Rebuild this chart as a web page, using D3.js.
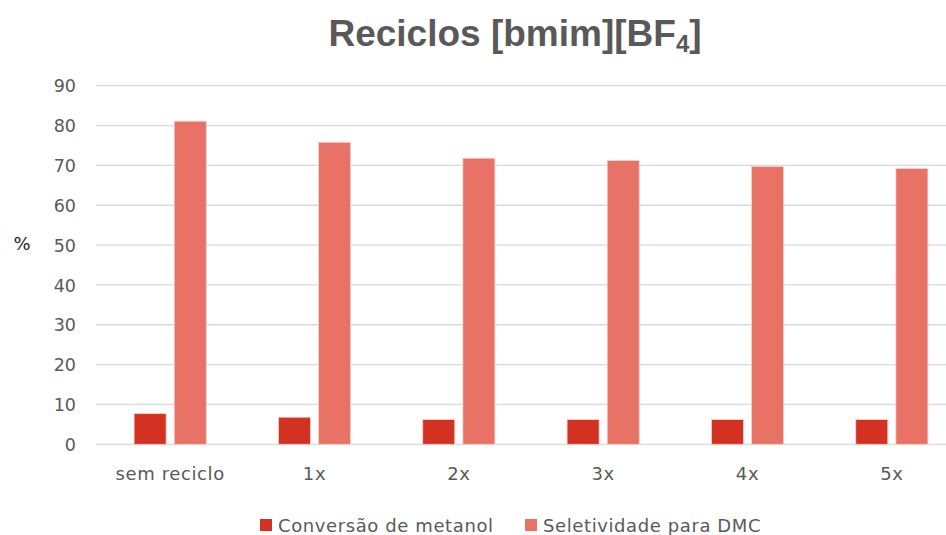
<!DOCTYPE html>
<html><head><meta charset="utf-8">
<script src="https://cdn.jsdelivr.net/npm/d3@7"></script>
<style>body{margin:0;background:#fff}svg{display:block}</style>
</head><body>
<svg id="c" width="946" height="535"></svg>
<script>
const categories = ["sem reciclo","1x","2x","3x","4x","5x"];
const conversao = [7.7, 6.8, 6.2, 6.2, 6.2, 6.2];
const seletividade = [81.1, 75.8, 71.8, 71.2, 69.7, 69.2];
const seriesNames = ["Conversão de metanol","Seletividade para DMC"];
const colors = ["#D33222","#E87265"];
const yTicks = [0,10,20,30,40,50,60,70,80,90];

const svg = d3.select("#c");
const W = 946, H = 535;
const x = d3.scaleBand().domain(categories).range([98, 964]).padding(0);
const y = d3.scaleLinear().domain([0,90]).range([444.3, 85.7]);

// gridlines
svg.append("g").selectAll("line").data(yTicks).join("line")
  .attr("x1", 96).attr("x2", W).attr("y1", d=>y(d)).attr("y2", d=>y(d))
  .attr("stroke","#d9d9d9").attr("stroke-width",1.3);

// y axis labels
const yAxis = d3.axisLeft(y).tickValues(yTicks).tickSize(0).tickPadding(0);
const ya = svg.append("g").attr("transform","translate(76,0)").call(yAxis);
ya.select(".domain").remove();
ya.selectAll("text").attr("font-family","DejaVu Sans").attr("font-size",17.5).attr("fill","#595959").attr("dy","0.35em");

svg.append("text").attr("x",22).attr("y",245).attr("text-anchor","middle").attr("dominant-baseline","middle")
  .attr("font-family","DejaVu Sans").attr("font-size",18).attr("fill","#262626").text("%");

// bars
const step = x.step();
const bw = step*0.222, gap = step*0.056;
const data = [conversao, seletividade];
data.forEach((vals,si)=>{
  svg.append("g").selectAll("rect").data(categories).join("rect")
    .attr("x", (c)=> x(c) + step/2 - gap/2 - bw + si*(bw+gap))
    .attr("y", (c,i)=>y(vals[i]))
    .attr("width", bw)
    .attr("height", (c,i)=>y(0)-y(vals[i]))
    .attr("fill", colors[si])
    .attr("stroke","#f7d3ce").attr("stroke-width",0.8);
});

// x axis labels
const xAxis = d3.axisBottom(x).tickSize(0).tickPadding(0);
const xa = svg.append("g").attr("transform","translate(0,467)").call(xAxis);
xa.select(".domain").remove();
xa.selectAll("text").attr("font-family","DejaVu Sans").attr("font-size",18).attr("letter-spacing","0.6px").attr("fill","#595959").attr("dy","0.71em");

// title
const t = svg.append("text").attr("x",515).attr("y",46).attr("text-anchor","middle")
  .attr("font-family","Liberation Sans").attr("font-weight","bold").attr("font-size",37).attr("fill","#595959");
t.append("tspan").text("Reciclos [bmim][BF");
t.append("tspan").attr("font-size",24).attr("dy",6).text("4");
t.append("tspan").attr("dy",-6).text("]");

// legend
const leg = [{x:260,tx:278},{x:525,tx:543}];
seriesNames.forEach((n,i)=>{
  svg.append("rect").attr("x",leg[i].x).attr("y",519).attr("width",12).attr("height",12).attr("fill",colors[i]);
  svg.append("text").attr("x",leg[i].tx).attr("y",532).attr("font-family","DejaVu Sans").attr("font-size",18)
    .attr("letter-spacing","0.6px").attr("fill","#595959").text(n);
});
</script>
</body></html>
